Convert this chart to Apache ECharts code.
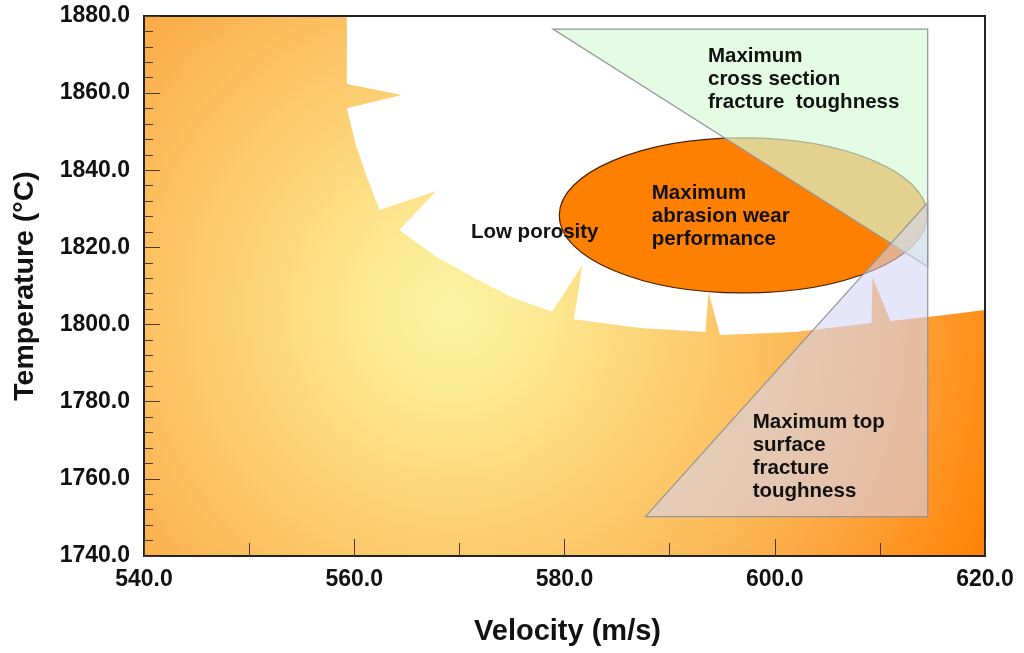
<!DOCTYPE html>
<html><head><meta charset="utf-8">
<script src="https://cdn.jsdelivr.net/npm/echarts@6/dist/echarts.min.js"></script>
<style>html,body{margin:0;padding:0;background:#fff}#c{width:1024px;height:653px}</style>
</head><body><div id="c"></div>
<script>
// ---- data ----
const xRange = [540, 620];
const yRange = [1740, 1880];
const gradientCenter = [569.3, 1803.8];
const lowPorosityRegion = [
  [559.3,1880],[559.3,1862.4],[564.5,1859.5],[559.3,1856.1],[560.1,1847.1],[561.3,1837.5],
  [562.4,1829.7],[567.8,1834.6],[564.3,1824.5],[567.7,1817.8],[571.3,1812.3],[575.0,1807.1],
  [578.8,1803.3],[581.7,1815.4],[580.9,1801.4],[587.2,1799.1],[593.4,1798.1],[593.7,1808.4],
  [594.8,1797.3],[601.9,1798.1],[609.2,1800.4],[609.3,1812.3],[611.0,1800.9],[615.4,1802.2],
  [620,1803.8],[620,1880]
];
const abrasionEllipse = [597.0, 1828.3, 17.5, 20.1]; // centre x, centre y, half-width, half-height
const crossSectionTriangle = [[578.9,1876.6],[614.55,1876.6],[614.55,1815.0]];
const topSurfaceTriangle = [[587.7,1750.2],[614.55,1750.2],[614.55,1831.6]];
const annotationTexts = ['Low porosity', 'Maximum\nabrasion wear\nperformance', 'Maximum\ncross section\nfracture  toughness', 'Maximum top\nsurface\nfracture\ntoughness'];
const annotationX = [571.1, 588.3, 593.65, 597.9];
const annotationY = [1824.0, 1828.1, 1863.7, 1765.8];

const FONT = '"Liberation Sans", Arial, sans-serif';
const chart = echarts.init(document.getElementById('c'), null, {renderer: 'canvas'});

function polygonSeries(points, fill, stroke, z) {
  return {
    type: 'custom', z: z, silent: true, clip: true,
    data: [points[0]],
    renderItem: function (params, api) {
      return {
        type: 'polygon',
        shape: {points: points.map(p => api.coord(p))},
        style: {fill: fill, stroke: stroke, lineWidth: stroke ? 1.2 : 0}
      };
    }
  };
}

const option = {
  animation: false,
  backgroundColor: '#fff',
  grid: {left: 144, right: 39, top: 16, bottom: 97, show: true, borderColor: '#222', borderWidth: 2, backgroundColor: 'transparent', z: 10},
  xAxis: {
    type: 'value', min: xRange[0], max: xRange[1], interval: 20, z: 10,
    name: 'Velocity (m/s)', nameLocation: 'middle', nameGap: 61,
    nameTextStyle: {fontFamily: FONT, fontWeight: 'bold', fontSize: 29, color: '#111', padding: [0, 0, 0, 6]},
    axisLine: {show: true, lineStyle: {color: '#222', width: 2}},
    axisTick: {show: true, inside: true, length: 17, lineStyle: {color: '#4a3a2a', width: 1}},
    minorTick: {show: true, splitNumber: 2, length: 13, lineStyle: {color: '#4a3a2a', width: 1}},
    splitLine: {show: false},
    axisLabel: {fontFamily: FONT, fontWeight: 'bold', fontSize: 23, color: '#111', margin: 12, formatter: v => v.toFixed(1)}
  },
  yAxis: {
    type: 'value', min: yRange[0], max: yRange[1], interval: 20, z: 10,
    name: 'Temperature (\u00B0C)', nameLocation: 'middle', nameGap: 104,
    nameTextStyle: {fontFamily: FONT, fontWeight: 'bold', fontSize: 28.5, color: '#111'},
    axisLine: {show: true, lineStyle: {color: '#222', width: 2}},
    axisTick: {show: true, inside: true, length: 16, lineStyle: {color: '#4a3a2a', width: 1}},
    minorTick: {show: true, splitNumber: 5, length: 9, lineStyle: {color: '#4a3a2a', width: 1}},
    splitLine: {show: false},
    axisLabel: {fontFamily: FONT, fontWeight: 'bold', fontSize: 23, color: '#111', margin: 14, formatter: v => v.toFixed(1)}
  },
  series: [
    { // background radial gradient
      type: 'custom', z: 1, silent: true,
      data: [gradientCenter],
      renderItem: function (params, api) {
        const cs = params.coordSys;
        const c = api.coord([api.value(0), api.value(1)]);
        const R = cs.width * 0.715;
        return {
          type: 'rect',
          shape: {x: cs.x, y: cs.y, width: cs.width, height: cs.height},
          style: {fill: {type: 'radial', x: c[0], y: c[1], r: R, global: true, colorStops: [
            {offset: 0, color: 'rgb(252,243,163)'},
            {offset: 0.12, color: 'rgb(252,236,150)'},
            {offset: 0.33, color: 'rgb(253,212,120)'},
            {offset: 0.55, color: 'rgb(252,188,92)'},
            {offset: 0.7, color: 'rgb(252,170,70)'},
            {offset: 0.89, color: 'rgb(255,142,24)'},
            {offset: 1, color: 'rgb(255,126,0)'}
          ]}}
        };
      }
    },
    polygonSeries(lowPorosityRegion, '#ffffff', null, 2),
    { // ellipse
      type: 'custom', z: 3, silent: true,
      data: [abrasionEllipse],
      renderItem: function (params, api) {
        const c = api.coord([api.value(0), api.value(1)]);
        const s = api.size([api.value(2), api.value(3)]);
        return {type: 'ellipse', shape: {cx: c[0], cy: c[1], rx: s[0], ry: s[1]},
          style: {fill: 'rgb(255,128,0)', stroke: '#4a2200', lineWidth: 1.2}};
      }
    },
    polygonSeries(crossSectionTriangle, 'rgba(213,251,213,0.67)', '#959595', 4),
    polygonSeries(topSurfaceTriangle, 'rgba(211,211,246,0.57)', '#959595', 5),
    { // annotations
      type: 'custom', z: 6, silent: true,
      data: annotationTexts.map((t, i) => [annotationX[i], annotationY[i], i]),
      renderItem: function (params, api) {
        const c = api.coord([api.value(0), api.value(1)]);
        return {type: 'text', x: c[0], y: c[1], style: {
          text: annotationTexts[api.value(2)], fill: '#111', font: 'bold 20.5px ' + FONT,
          lineHeight: 23, align: 'left', verticalAlign: 'middle'
        }};
      }
    }
  ]
};
chart.setOption(option);
</script></body></html>
